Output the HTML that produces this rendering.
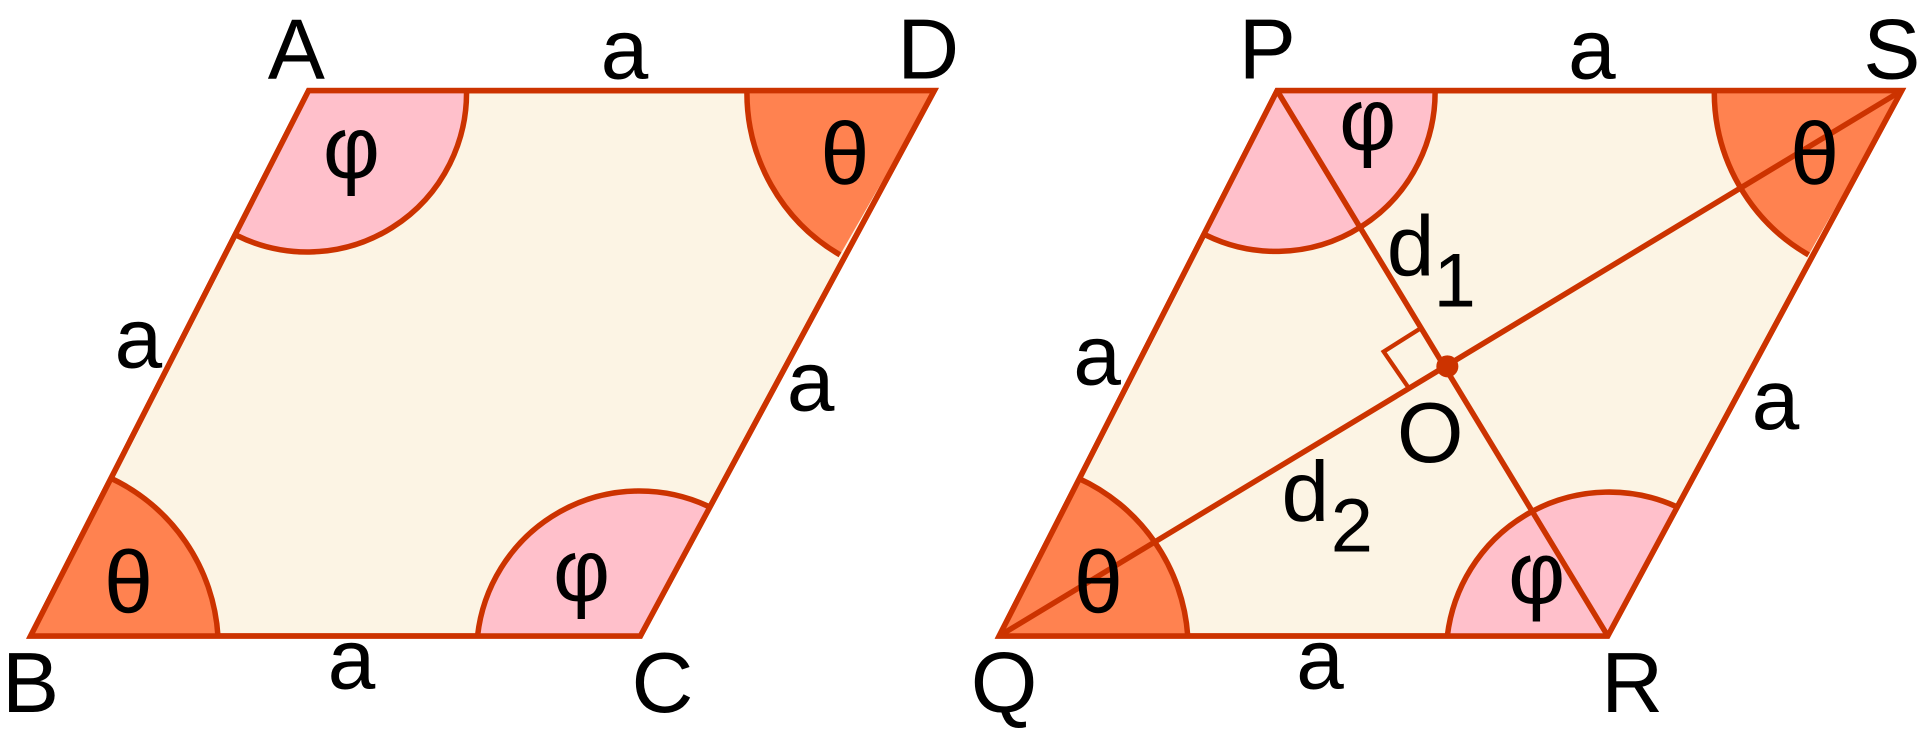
<!DOCTYPE html>
<html><head><meta charset="utf-8"><style>
html,body{margin:0;padding:0;background:#fff;}
svg{display:block}
text{font-family:"Liberation Sans",sans-serif;font-size:70px;fill:#000;text-anchor:middle}
.g{font-size:72px}
.s{font-size:62px}
</style></head><body>
<svg width="1920" height="745" viewBox="0 0 1568 608" preserveAspectRatio="none">
<g stroke="#cc3300" stroke-width="4.5" stroke-linejoin="miter">
<polygon points="252,74 763,74 523,519 25,519" fill="#fcf4e4"/>
<path d="M252,74 L381,74 A130,130 0 0 1 193,192 Z" fill="#ffc0cb" stroke="none"/>
<path d="M381,74 A130,130 0 0 1 193,192" fill="none"/>
<path d="M763,74 L610,74 A153,153 0 0 0 686,208 Z" fill="#ff8250" stroke="none"/>
<path d="M610,74 A153,153 0 0 0 686,208" fill="none"/>
<path d="M25,519 L178,519 A153,153 0 0 0 90,390 Z" fill="#ff8250" stroke="none"/>
<path d="M178,519 A153,153 0 0 0 90,390" fill="none"/>
<path d="M523,519 L390,519 A133,133 0 0 1 578,413 Z" fill="#ffc0cb" stroke="none"/>
<path d="M390,519 A133,133 0 0 1 578,413" fill="none"/>
<polygon points="252,74 763,74 523,519 25,519" fill="none"/>
<polygon points="1043,74 1553,74 1313,519 816,519" fill="#fcf4e4"/>
<path d="M1043,74 L1172,74 A130,130 0 0 1 985,192 Z" fill="#ffc0cb" stroke="none"/>
<path d="M1172,74 A130,130 0 0 1 985,192" fill="none"/>
<path d="M1553,74 L1400,74 A153,153 0 0 0 1477,208 Z" fill="#ff8250" stroke="none"/>
<path d="M1400,74 A153,153 0 0 0 1477,208" fill="none"/>
<path d="M816,519 L970,519 A153,153 0 0 0 880,390 Z" fill="#ff8250" stroke="none"/>
<path d="M970,519 A153,153 0 0 0 880,390" fill="none"/>
<path d="M1313,519 L1182,519 A133,133 0 0 1 1368,413 Z" fill="#ffc0cb" stroke="none"/>
<path d="M1182,519 A133,133 0 0 1 1368,413" fill="none"/>
<line x1="1043" y1="74" x2="1313" y2="519"/>
<line x1="816" y1="519" x2="1553" y2="74"/>
<polyline points="1160,268 1130,287 1150,316" fill="none" stroke-width="3.5"/>
<polygon points="1043,74 1553,74 1313,519 816,519" fill="none"/>
</g>
<circle cx="1182" cy="299" r="9" fill="#cc3300"/>
<text x="242" y="64">A</text>
<text x="758" y="64">D</text>
<text x="25" y="581">B</text>
<text x="541" y="581">C</text>
<text x="510" y="64">a</text>
<text x="113" y="300">a</text>
<text x="662" y="335">a</text>
<text x="287" y="562">a</text>
<text class="g" x="287" y="145">φ</text>
<text class="g" x="690" y="150">θ</text>
<text class="g" x="105" y="500">θ</text>
<text class="g" x="475" y="490">φ</text>
<text x="1035" y="64">P</text>
<text x="1545" y="64">S</text>
<text x="820" y="581">Q</text>
<text x="1333" y="581">R</text>
<text x="1300" y="64">a</text>
<text x="896" y="314">a</text>
<text x="1450" y="350">a</text>
<text x="1078" y="562">a</text>
<text x="1168" y="377">O</text>
<text x="1152" y="225">d</text>
<text class="s" x="1188" y="250">1</text>
<text x="1066" y="425">d</text>
<text class="s" x="1104" y="450">2</text>
<text class="g" x="1117" y="122">φ</text>
<text class="g" x="1482" y="150">θ</text>
<text class="g" x="897" y="500">θ</text>
<text class="g" x="1255" y="492">φ</text>
</svg>
</body></html>
